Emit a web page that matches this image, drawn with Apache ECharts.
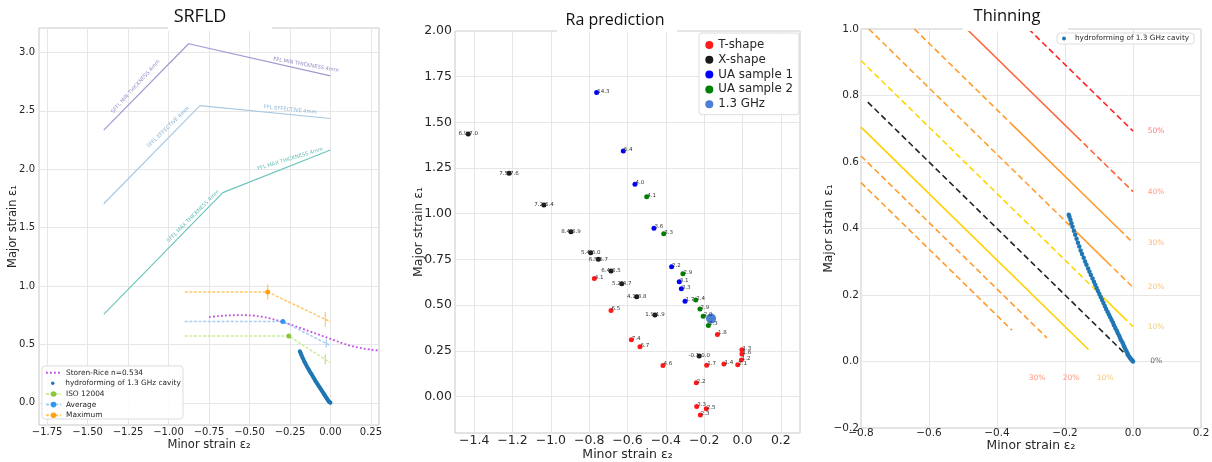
<!DOCTYPE html>
<html>
<head>
<meta charset="utf-8">
<script src="https://cdn.jsdelivr.net/npm/echarts@6/dist/echarts.min.js"></script>
<style>
html,body{margin:0;padding:0;background:#fff;}
#chart{width:1212px;height:462px;}
</style>
</head>
<body>
<div id="chart"></div>
<script>
// ---------- SRFLD panel ----------
const srfldTicksX = [-1.75, -1.5, -1.25, -1.0, -0.75, -0.5, -0.25, 0, 0.25];
const srfldTicksY = [0, 0.5, 1.0, 1.5, 2.0, 2.5, 3.0];
const sfflMin = [[-1.4, 2.335], [-0.876, 3.075], [0, 2.80]];
const sfflEff = [[-1.4, 1.705], [-0.806, 2.545], [0, 2.435]];
const sfflMax = [[-1.4, 0.757], [-0.665, 1.80], [0, 2.165]];
// text, x, y, angle
const sfflNotes = [
  ['SFFL MIN THICKNESS 4mm', -1.203, 2.708, 48],
  ['FFL MIN THICKNESS 4mm', -0.151, 2.894, -10],
  ['SFFL EFFECTIVE 4mm', -1.002, 2.36, 44],
  ['FFL EFFECTIVE 4mm', -0.249, 2.51, -6],
  ['FFL MAX THICKNESS 4mm', -0.249, 2.088, 17],
  ['SFFL MAX THICKNESS 4mm', -0.848, 1.598, 45]
];
const storenRice = [
  [-0.75, 0.734], [-0.70, 0.742], [-0.65, 0.747], [-0.60, 0.750], [-0.55, 0.751],
  [-0.50, 0.749], [-0.45, 0.743], [-0.40, 0.731], [-0.35, 0.714], [-0.30, 0.694],
  [-0.25, 0.672], [-0.20, 0.648], [-0.15, 0.623], [-0.10, 0.598], [-0.05, 0.573],
  [0.00, 0.548], [0.05, 0.522], [0.10, 0.498], [0.15, 0.480], [0.20, 0.466],
  [0.25, 0.455], [0.30, 0.447]
];
const isoLine = [[-0.9, 0.572], [-0.257, 0.572], [0, 0.343]];
const isoPoints = [[-0.257, 0.572, 0], [-0.032, 0.372, 0.042]];
const avgLine = [[-0.9, 0.697], [-0.294, 0.697], [0, 0.49]];
const avgPoints = [[-0.294, 0.697, 0], [-0.026, 0.509, 0.035]];
const maxLine = [[-0.9, 0.949], [-0.387, 0.949], [0, 0.694]];
const maxPoints = [[-0.387, 0.949, 0.065], [-0.032, 0.715, 0.063]];
// measured strain path of the hydroformed 1.3 GHz cavity
const hydroCurve = [
  [0.000, 0.000], [-0.002, 0.003], [-0.005, 0.006], [-0.008, 0.010], [-0.011, 0.014],
  [-0.014, 0.019], [-0.016, 0.024], [-0.019, 0.030], [-0.022, 0.036], [-0.025, 0.043],
  [-0.028, 0.050], [-0.031, 0.057], [-0.035, 0.064], [-0.038, 0.071], [-0.041, 0.078],
  [-0.045, 0.086], [-0.048, 0.093], [-0.052, 0.101], [-0.056, 0.109], [-0.059, 0.117],
  [-0.063, 0.125], [-0.067, 0.133], [-0.071, 0.141], [-0.075, 0.150], [-0.079, 0.158],
  [-0.083, 0.167], [-0.087, 0.176], [-0.091, 0.185], [-0.095, 0.194], [-0.099, 0.203],
  [-0.103, 0.212], [-0.107, 0.221], [-0.111, 0.231], [-0.115, 0.240], [-0.119, 0.250],
  [-0.124, 0.260], [-0.128, 0.270], [-0.132, 0.280], [-0.137, 0.291], [-0.141, 0.301],
  [-0.145, 0.312], [-0.150, 0.323], [-0.154, 0.334], [-0.158, 0.346], [-0.162, 0.357],
  [-0.166, 0.369], [-0.170, 0.381], [-0.174, 0.393], [-0.178, 0.405], [-0.181, 0.416],
  [-0.184, 0.426], [-0.187, 0.435], [-0.189, 0.441]
];

// ---------- Ra prediction panel ----------
const raTicksX = [-1.4, -1.2, -1.0, -0.8, -0.6, -0.4, -0.2, 0.0, 0.2];
const raTicksY = [0, 0.25, 0.5, 0.75, 1.0, 1.25, 1.5, 1.75, 2.0];
const tShape = [
  [-0.773, 0.645, '4.1'], [-0.686, 0.470, '6.5'], [-0.580, 0.311, '7.4'], [-0.535, 0.272, '6.7'],
  [-0.415, 0.169, '4.6'], [-0.131, 0.339, '1.8'], [-0.187, 0.171, '1.7'], [-0.097, 0.177, '1.4'],
  [-0.025, 0.173, '2.1'], [-0.006, 0.199, '1.2'], [-0.003, 0.232, '1.6'], [-0.003, 0.255, '1.3'],
  [-0.241, 0.075, '2.2'], [-0.239, -0.055, '3.3'], [-0.189, -0.067, '2.5'], [-0.220, -0.102, '2.3']
];
const xShape = [
  [-1.431, 1.436, '6.9-7.0'], [-1.218, 1.221, '7.5-7.6'], [-1.036, 1.048, '7.2-6.4'],
  [-0.895, 0.902, '8.4-6.9'], [-0.792, 0.787, '5.4-6.0'], [-0.752, 0.751, '6.5-6.7'],
  [-0.686, 0.687, '6.4-6.5'], [-0.630, 0.617, '5.2-4.7'], [-0.552, 0.546, '4.1-3.8'],
  [-0.457, 0.446, '1.9-1.9'], [-0.226, 0.222, '-0.1-0.0']
];
const uaSample1 = [
  [-0.761, 1.663, '14.3'], [-0.622, 1.343, '6.4'], [-0.561, 1.161, '4.0'], [-0.462, 0.920, '3.6'],
  [-0.370, 0.710, '2.2'], [-0.330, 0.628, '3.1'], [-0.319, 0.590, '3.3'], [-0.300, 0.521, '1.7']
];
const uaSample2 = [
  [-0.500, 1.093, '4.1'], [-0.411, 0.891, '3.3'], [-0.311, 0.672, '2.9'], [-0.244, 0.528, '2.4'],
  [-0.222, 0.479, '2.9'], [-0.205, 0.439, '2.0'], [-0.178, 0.388, '2.3']
];
const cavity13 = [[-0.164, 0.426]];

// ---------- Thinning panel ----------
const thinTicksX = [-0.8, -0.6, -0.4, -0.2, 0.0, 0.2];
const thinTicksY = [-0.2, 0.0, 0.2, 0.4, 0.6, 0.8, 1.0];
// iso-thickness segments: [points, colour, dashed]
const thinSegments = [
  [[[-0.307, 1.0], [0, 0.693]], '#ff2626', true],
  [[[-0.489, 1.0], [-0.165, 0.676]], '#ff6235', false],
  [[[-0.165, 0.676], [0, 0.511]], '#ff6235', true],
  [[[-0.643, 1.0], [-0.36, 0.717]], '#ff9a2e', true],
  [[[-0.36, 0.717], [-0.04, 0.397]], '#ff9a2e', false],
  [[[-0.04, 0.397], [0, 0.357]], '#ff9a2e', true],
  [[[-0.777, 1.0], [-0.175, 0.398]], '#ffa033', true],
  [[[-0.175, 0.398], [-0.076, 0.299]], '#ffa033', false],
  [[[-0.076, 0.299], [0, 0.223]], '#ffa033', true],
  [[[-0.8, 0.905], [-0.12, 0.225]], '#ffd700', true],
  [[[-0.12, 0.225], [-0.03, 0.135]], '#ffd700', false],
  [[[-0.03, 0.135], [0, 0.105]], '#ffd700', true],
  [[[-0.78, 0.78], [0, 0]], '#222222', true],
  [[[-0.8, 0.705], [-0.131, 0.036]], '#ffd000', false],
  [[[-0.8, 0.618], [-0.253, 0.071]], '#ff9a2e', true],
  [[[-0.8, 0.538], [-0.356, 0.094]], '#ff9a2e', true]
];
// text, x, y, colour
const thinLabels = [
  ['50%', 0.068, 0.693, '#ff5a5a'], ['40%', 0.068, 0.511, '#ff7f5c'],
  ['30%', 0.068, 0.357, '#ffa64d'], ['20%', 0.068, 0.223, '#ffb347'],
  ['10%', 0.068, 0.105, '#f0c04a'], ['0%', 0.068, 0.0, '#333333'],
  ['30%', -0.282, -0.05, '#ff7a5a'], ['20%', -0.182, -0.05, '#ff7a5a'],
  ['10%', -0.082, -0.05, '#f2b84b']
];

const HYDRO = 'hydroforming of 1.3 GHz cavity';
const FONT = '"DejaVu Sans", "Liberation Sans", sans-serif';
const fmt = (v, d) => {
  if (Math.abs(v) < 1e-9) v = 0;
  return (v < 0 ? '\u2212' : '') + Math.abs(v).toFixed(d);
};

function valueAxis(gridIndex, min, max, ticks, dec, fontSize, name, nameGap, margin, nameSize) {
  return {
    type: 'value', gridIndex, min, max,
    axisLine: { show: false },
    axisTick: { show: false, customValues: ticks },
    axisLabel: {
      customValues: ticks, formatter: v => fmt(v, dec), fontSize,
      color: '#262626', fontFamily: FONT, margin
    },
    splitLine: { show: true, lineStyle: { color: '#e6e6e6', width: 1 } },
    name, nameLocation: 'middle', nameGap, nameMoveOverlap: false,
    nameTextStyle: { fontSize: nameSize, color: '#262626', fontFamily: FONT }
  };
}

function errorBars(color, pts) {
  return {
    type: 'custom', xAxisIndex: 0, yAxisIndex: 0, silent: true, z: 3,
    data: pts,
    renderItem: (params, api) => {
      const x = api.value(0), y = api.value(1), e = api.value(2);
      if (!e) return null;
      const a = api.coord([x, y - e]), b = api.coord([x, y + e]);
      return { type: 'line', shape: { x1: a[0], y1: a[1], x2: b[0], y2: b[1] },
               style: { stroke: color, lineWidth: 1 } };
    }
  };
}

function markedLine(name, line, markerColor, lineColor) {
  const n = line.length;
  return {
    name, type: 'line', xAxisIndex: 0, yAxisIndex: 0, z: 4,
    data: line.map((p, i) => (i === 0 || i === n - 1) ? { value: p, symbol: 'none' } : p),
    symbol: 'circle', symbolSize: 5,
    itemStyle: { color: markerColor, opacity: 1 },
    lineStyle: { color: lineColor, width: 1.5, type: [3, 1.6] }
  };
}

function raScatter(name, pts, color, centred) {
  return {
    name, type: 'scatter', xAxisIndex: 1, yAxisIndex: 1,
    data: pts.map(p => ({ value: [p[0], p[1]], label: { formatter: p[2] } })),
    symbolSize: 5, itemStyle: { color, opacity: 1 },
    label: centred
      ? { show: true, position: 'inside', fontSize: 5.5, color: '#333', fontFamily: FONT }
      : { show: true, position: 'right', distance: -2, offset: [0, -1.5], fontSize: 5.5, color: '#333', fontFamily: FONT }
  };
}

const series = [];
// SRFLD forming limit curves
[[sfflMin, '#a497cf'], [sfflEff, '#a9c9e3'], [sfflMax, '#6dc5bc']].forEach(([d, c]) => {
  series.push({ type: 'line', xAxisIndex: 0, yAxisIndex: 0, data: d, symbol: 'none', silent: true,
                lineStyle: { color: c, width: 1.2 } });
});
const noteColours = ['#7b6bb8', '#7b6bb8', '#6aa3d0', '#6aa3d0', '#39ada2', '#39ada2'];
series.push({
  type: 'scatter', xAxisIndex: 0, yAxisIndex: 0, symbolSize: 0, silent: true,
  data: sfflNotes.map((n, i) => ({ value: [n[1], n[2]],
    label: { formatter: n[0], rotate: n[3], color: noteColours[i] } })),
  label: { show: true, position: 'inside', fontSize: 5.2, fontFamily: FONT }
});
series.push({ name: 'Storen-Rice n=0.534', type: 'line', xAxisIndex: 0, yAxisIndex: 0,
  data: storenRice, symbol: 'none', smooth: 0.3, z: 4,
  itemStyle: { color: '#c04de6' },
  lineStyle: { color: '#c04de6', width: 1.8, type: [1.8, 2.2] } });
series.push({ name: HYDRO, type: 'scatter', xAxisIndex: 0, yAxisIndex: 0, data: hydroCurve,
  symbolSize: 4, itemStyle: { color: '#1f77b4', opacity: 1 }, z: 5 });
series.push(markedLine('ISO 12004', isoLine, '#8cc63f', '#cdec9a'));
series.push(errorBars('#a8d868', isoPoints));
series.push(markedLine('Average', avgLine, '#2e95f0', '#a7cdf2'));
series.push(errorBars('#8cc2f2', avgPoints));
series.push(markedLine('Maximum', maxLine, '#ffa31a', '#ffc766'));
series.push(errorBars('#ffbb55', maxPoints));

// Ra prediction scatter
series.push(raScatter('T-shape', tShape, '#ff1a1a', false));
series.push(raScatter('X-shape', xShape, '#1a1a1a', true));
series.push(raScatter('UA sample 1', uaSample1, '#0000ff', false));
series.push(raScatter('UA sample 2', uaSample2, '#008000', false));
series.push({ name: '1.3 GHz', type: 'scatter', xAxisIndex: 1, yAxisIndex: 1, data: cavity13,
  symbolSize: 10, itemStyle: { color: '#4a7fd1', opacity: 1 } });

// Thinning iso-lines
thinSegments.forEach(([pts, c, dashed]) => {
  series.push({ type: 'line', xAxisIndex: 2, yAxisIndex: 2, data: pts, symbol: 'none', silent: true,
    lineStyle: { color: c, width: 1.6, type: dashed ? [6, 3.5] : 'solid' } });
});
series.push({ name: HYDRO, type: 'scatter', xAxisIndex: 2, yAxisIndex: 2, data: hydroCurve,
  symbolSize: 4.5, itemStyle: { color: '#1f77b4', opacity: 1 }, z: 5 });
series.push({
  type: 'scatter', xAxisIndex: 2, yAxisIndex: 2, symbolSize: 0, silent: true,
  data: thinLabels.map(l => ({ value: [l[1], l[2]], label: { formatter: l[0], color: l[3] } })),
  label: { show: true, position: 'inside', fontSize: 7.5, fontFamily: FONT }
});

const legendText = { fontSize: 7.4, lineHeight: 10.6, color: '#262626', fontFamily: FONT };
const srfldLegendBase = {
  orient: 'vertical', left: 45, selectedMode: false, padding: 0, itemGap: 0,
  itemWidth: 15, itemHeight: 7, textStyle: legendText
};

const option = {
  animation: false,
  backgroundColor: '#fff',
  grid: [
    { left: 39, top: 28, width: 340, height: 397, show: true, borderColor: '#c8c8c8', borderWidth: 1, outerBoundsMode: 'none', containLabel: false },
    { left: 455, top: 31, width: 345, height: 402, show: true, borderColor: '#c8c8c8', borderWidth: 1, outerBoundsMode: 'none', containLabel: false },
    { left: 861, top: 29, width: 340, height: 399, show: true, borderColor: '#c8c8c8', borderWidth: 1, outerBoundsMode: 'none', containLabel: false }
  ],
  xAxis: [
    valueAxis(0, -1.8, 0.3, srfldTicksX, 2, 10, 'Minor strain ε₂', 14, 2, 11.5),
    valueAxis(1, -1.5, 0.3, raTicksX, 1, 12.5, 'Minor strain ε₂', 15, 1.5, 12.5),
    valueAxis(2, -0.8, 0.2, thinTicksX, 1, 10.5, 'Minor strain ε₂', 12, 0, 12.3)
  ],
  yAxis: [
    valueAxis(0, -0.19, 3.21, srfldTicksY, 1, 10, 'Major strain ε₁', 20, 4, 11.5),
    valueAxis(1, -0.2, 2.0, raTicksY, 2, 12.5, 'Major strain ε₁', 29.5, 3, 12.5),
    valueAxis(2, -0.2, 1.0, thinTicksY, 1, 10.5, 'Major strain ε₁', 25.7, 2, 12.3)
  ],
  legend: [
    Object.assign({}, srfldLegendBase, { top: 367.4,
      data: [{ name: 'Storen-Rice n=0.534', itemStyle: { opacity: 0 } }] }),
    Object.assign({}, srfldLegendBase, { top: 378, left: 51, itemHeight: 3.5, data: [HYDRO] }),
    Object.assign({}, srfldLegendBase, { top: 388.7, data: ['ISO 12004', 'Average', 'Maximum'] }),
    {
      data: ['T-shape', 'X-shape', 'UA sample 1', 'UA sample 2', '1.3 GHz'],
      orient: 'vertical', left: 699, top: 33, selectedMode: false, icon: 'circle',
      backgroundColor: '#fff', borderColor: '#dddddd', borderWidth: 1, borderRadius: 3,
      padding: [5.5, 6, 4, 6.3], itemGap: 1.8, itemWidth: 8, itemHeight: 8,
      textStyle: { fontSize: 11.8, lineHeight: 13, color: '#262626', fontFamily: FONT }
    },
    {
      data: [HYDRO],
      orient: 'vertical', left: 1057, top: 33, selectedMode: false,
      backgroundColor: '#fff', borderColor: '#dddddd', borderWidth: 1, borderRadius: 3,
      padding: [2, 5, 2, 5], itemWidth: 12, itemHeight: 4,
      textStyle: { fontSize: 7.3, color: '#262626', fontFamily: FONT }
    }
  ],
  graphic: [
    { type: 'rect', z: 3, shape: { x: 42, y: 366, width: 141, height: 53, r: 3 },
      style: { fill: 'rgba(255,255,255,0.85)', stroke: '#dddddd', lineWidth: 1 } },
    { type: 'rect', z: 100, shape: { x: 168, y: 2, width: 104, height: 29 }, style: { fill: '#fff' } },
    { type: 'text', z: 101, x: 200, y: 17, style: { text: 'SRFLD', fontSize: 18, fontFamily: '"Open Sans", sans-serif', fill: '#111', align: 'center', verticalAlign: 'middle' } },
    { type: 'rect', z: 100, shape: { x: 557, y: 6, width: 120, height: 26 }, style: { fill: '#fff' } },
    { type: 'text', z: 101, x: 615, y: 20, style: { text: 'Ra prediction', fontSize: 16, fontFamily: '"Open Sans", sans-serif', fill: '#111', align: 'center', verticalAlign: 'middle' } },
    { type: 'rect', z: 100, shape: { x: 963, y: 2, width: 105, height: 29 }, style: { fill: '#fff' } },
    { type: 'text', z: 101, x: 1007, y: 16, style: { text: 'Thinning', fontSize: 16.5, fontFamily: '"Open Sans", sans-serif', fill: '#111', align: 'center', verticalAlign: 'middle' } }
  ],
  series
};

const chart = echarts.init(document.getElementById('chart'), null, { renderer: 'canvas' });
chart.setOption(option);
</script>
</body>
</html>
